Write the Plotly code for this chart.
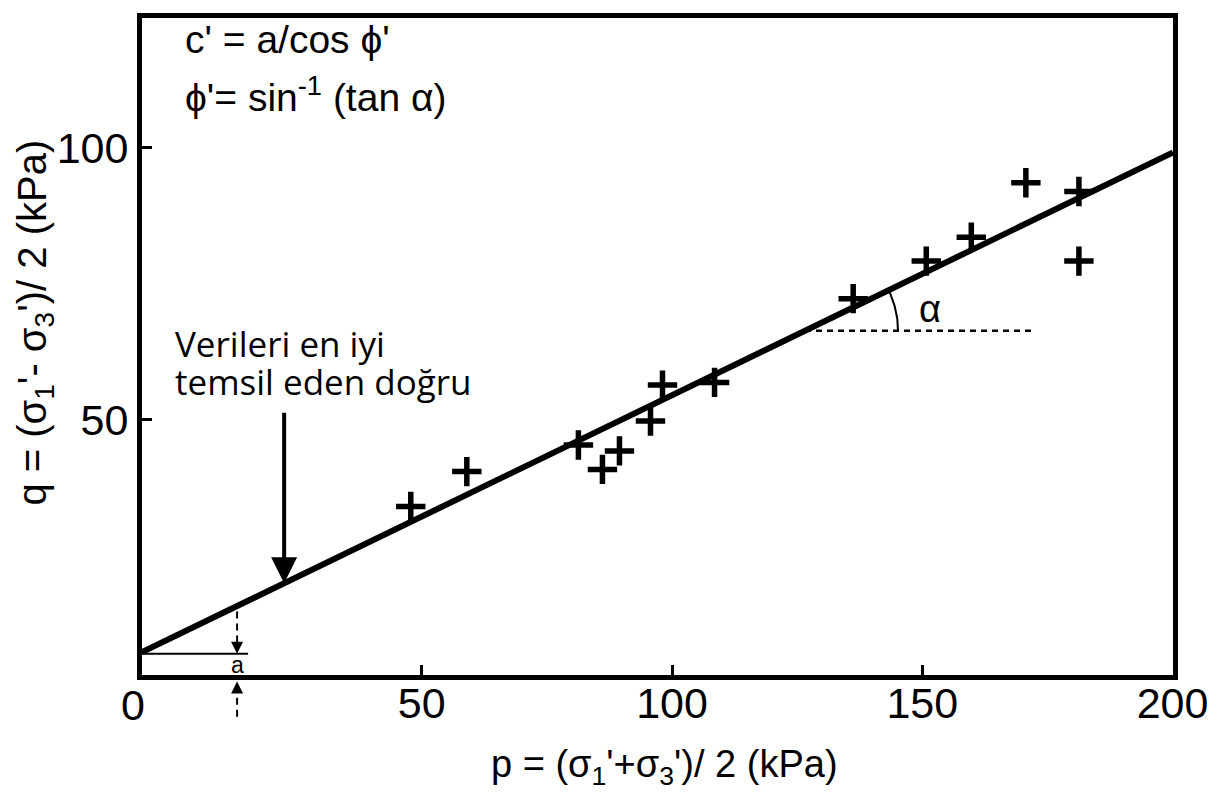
import numpy as np
import plotly.graph_objects as go

# ---- data ----
p_vals = [47.8, 59.0, 81.3, 86.1, 89.5, 95.7, 98.1, 108.5, 136.2, 150.8, 159.8, 170.7, 181.3, 181.3]
q_vals = [34.1, 40.5, 45.4, 40.9, 44.3, 49.8, 56.4, 56.9, 72.3, 79.2, 83.6, 93.6, 92.0, 79.2]

line_p = [-5.9, 200.1]
line_q = [7.3, 99.2]

x_range = [-5.9, 200.1]
y_range = [3.1, 123.9]
x_ticks = [50, 100, 150, 200]
y_ticks = [50, 100]

FONT = "Liberation Sans"

# figure geometry (page body adds an 8px offset)
W, H = 1220, 799
M = dict(l=134, r=55, t=5, b=132)
plot_w = W - M["l"] - M["r"]
plot_h = H - M["t"] - M["b"]

fig = go.Figure()

# best-fit line
fig.add_trace(go.Scatter(x=line_p, y=line_q, mode="lines",
                         line=dict(color="black", width=6), hoverinfo="skip"))

# data points
fig.add_trace(go.Scatter(x=p_vals, y=q_vals, mode="markers",
                         marker=dict(symbol="cross-thin", size=21,
                                     line=dict(color="black", width=5.5)),
                         hoverinfo="skip"))

slope = (line_q[1] - line_q[0]) / (line_p[1] - line_p[0])
def line_at(x):
    return line_q[0] + slope * (x - line_p[0])

px_per_x = plot_w / (x_range[1] - x_range[0])
px_per_y = plot_h / (y_range[1] - y_range[0])

# alpha construction: dashed horizontal + arc
alpha_y = 66.4
alpha_x0 = (alpha_y - line_q[0]) / slope + line_p[0]
alpha_x1 = 171.8
fig.add_shape(type="line", x0=alpha_x0, x1=alpha_x1, y0=alpha_y, y1=alpha_y,
              line=dict(color="black", width=2.5, dash="6px,5px"))
ang = np.arctan(slope * px_per_y / px_per_x)
theta = np.linspace(0, ang, 30)
r = 93
fig.add_trace(go.Scatter(x=alpha_x0 + r * np.cos(theta) / px_per_x,
                         y=alpha_y + r * np.sin(theta) / px_per_y,
                         mode="lines", line=dict(color="black", width=2),
                         hoverinfo="skip"))
fig.add_annotation(x=151.6, y=70.4, showarrow=False, xanchor="center", yanchor="middle",
                   text="α", font=dict(family=FONT, size=38, color="black"))

# intercept "a" construction
a_x = 13.1
a_q = line_q[0] - 0.3
fig.add_shape(type="line", x0=x_range[0], x1=15.3, y0=a_q, y1=a_q,
              line=dict(color="black", width=2))
fig.add_shape(type="line", x0=a_x, x1=a_x, y0=line_at(a_x) - 1, y1=a_q + 2.0,
              line=dict(color="black", width=2, dash="7px,5px"))
fig.add_annotation(x=a_x, y=a_q, ax=0, ay=-12, showarrow=True,
                   arrowhead=2, arrowsize=1.2, arrowwidth=2, arrowcolor="black", text="")
fig.add_annotation(x=a_x, y=5.0, text="a", showarrow=False, xanchor="center", yanchor="middle",
                   font=dict(family=FONT, size=23, color="black"))
a_xp = (a_x - x_range[0]) / (x_range[1] - x_range[0])
fig.add_shape(type="line", xref="paper", yref="paper", x0=a_xp, x1=a_xp,
              y0=-0.0634, y1=-0.0227, line=dict(color="black", width=2, dash="7px,5px"))
fig.add_annotation(xref="paper", yref="paper", x=a_xp, y=-0.010, ax=0, ay=12,
                   showarrow=True, arrowhead=2, arrowsize=1.2, arrowwidth=2,
                   arrowcolor="black", text="")

# formulas
fig.add_annotation(x=2.3, y=119.9, xanchor="left", yanchor="middle", showarrow=False,
                   text="c' = a/cos ϕ'", font=dict(family=FONT, size=39, color="black"))
fig.add_annotation(x=2.3, y=109.9, xanchor="left", yanchor="middle", showarrow=False,
                   text="ϕ'= sin<sup>-1</sup> (tan α)", font=dict(family=FONT, size=39, color="black"))

# "best line" label and arrow
fig.add_annotation(x=0.3, y=64.1, xanchor="left", yanchor="middle", showarrow=False,
                   text="Verileri en iyi", font=dict(family="Open Sans", size=35, color="black"))
fig.add_annotation(x=0.3, y=57.1, xanchor="left", yanchor="middle", showarrow=False,
                   text="temsil eden doğru", font=dict(family="Open Sans", size=35, color="black"))
tip_x = 22.5
fig.add_annotation(x=tip_x, y=line_at(tip_x), ax=0, ay=-172, showarrow=True,
                   arrowhead=2, arrowsize=1.3, arrowwidth=4, arrowcolor="black", text="")

# axis titles and corner zero
fig.add_annotation(xref="paper", yref="paper", x=0.507, y=-0.140, showarrow=False,
                   xanchor="center", yanchor="middle",
                   text="p = (σ<sub>1</sub>'+σ<sub>3</sub>')/ 2 (kPa)",
                   font=dict(family=FONT, size=38, color="black"))
fig.add_annotation(xref="paper", yref="paper", x=-0.104, y=0.536, showarrow=False,
                   xanchor="center", yanchor="middle", textangle=-90,
                   text="q = (σ<sub>1</sub>'- σ<sub>3</sub>')/ 2 (kPa)",
                   font=dict(family=FONT, size=40, color="black"))
fig.add_annotation(xref="paper", yref="paper", x=-0.0087, y=-0.045, showarrow=False,
                   xanchor="center", yanchor="middle",
                   text="0", font=dict(family=FONT, size=43, color="black"))

axis_common = dict(showgrid=False, zeroline=False, showline=True, linecolor="black",
                   linewidth=5, mirror=True, ticks="inside", ticklen=10, tickwidth=3,
                   tickcolor="black", tickfont=dict(family=FONT, size=43, color="black"))
fig.update_xaxes(range=x_range, tickvals=x_ticks, ticklabelstandoff=-14, **axis_common)
fig.update_yaxes(range=y_range, tickvals=y_ticks, **axis_common)

fig.update_layout(width=W, height=H, showlegend=False, margin=M,
                  plot_bgcolor="white", paper_bgcolor="white")

fig.write_html("out.html")
